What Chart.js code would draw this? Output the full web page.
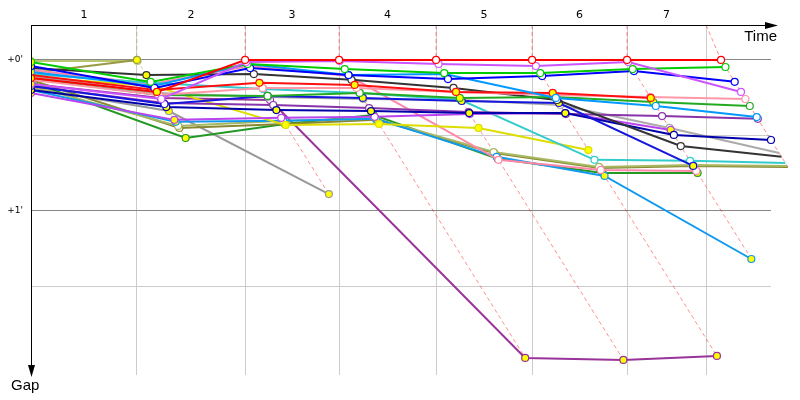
<!DOCTYPE html>
<html>
<head>
<meta charset="utf-8">
<script src="https://cdn.jsdelivr.net/npm/chart.js@4.4.0/dist/chart.umd.min.js"></script>
<style>
  html, body { margin: 0; background: #fff; }
</style>
</head>
<body>
<canvas id="chart" width="800" height="400"></canvas>
<script>
// time (s) at which the leader ends each lap, lap 0 = start
const leaderTimes = [0, 67.4, 136.2, 196.0, 257.7, 318.8, 379.2, 439.0]
// lap boundaries drawn as vertical grid lines
const lapLines = [67.4, 136.2, 196.0, 257.7, 318.8, 379.2, 429.5]
const lapLabels = ['1', '2', '3', '4', '5', '6', '7']
const gapTicks = [0, 30, 60, 90]

// gap to the leader (s) at the end of each lap, and laps drawn with a yellow marker
const redGaps = [7.2, 12.7, 0, 0, 0, 0, 0, 0]
const redPits = [0, 1]
const violetGaps = [9.5, 15.5, 0.8, 0.4, 1.6, 2.4, 0.8, 12.7]
const violetPits = [0]
const greenGaps = [0.8, 8.7, 1.6, 3.6, 5.2, 5.2, 3.6, 2.8]
const greenPits = [0]
const blueGaps = [2.4, 11.1, 3.2, 6.0, 7.6, 6.4, 4.4, 8.7]
const bluePits = [0]
const skyGaps = [4.8, 10.3, 1.6, 6.0, 5.6, 15.1, 18.3, 22.7]
const skyPits = [0, 2]
const pinkGaps = [4.0, 9.5, 2.4, 6.4, 39.7, 43.7, 44.1]
const pinkPits = [0, 2]
const blackGaps = [3.2, 6.0, 5.6, 7.9, 11.1, 15.9, 34.2, 38.5]
const blackPits = [0, 1]
const red2Gaps = [6.0, 11.9, 9.1, 9.9, 12.7, 13.1, 15.1]
const red2Pits = [0, 1, 2, 3, 4, 5, 6]
const rosaGaps = [7.9, 13.9, 11.1, 11.1, 12.7, 13.9, 14.7, 15.5]
const rosaPits = [0]
const cyanGaps = [5.6, 9.1, 11.5, 13.1, 15.9, 39.7, 40.1, 40.9]
const cyanPits = [0]
const greyGaps = [11.1, 20.3, 53.3]
const greyPits = [0, 1, 2]
const silverGaps = [6.4, 13.1, 14.7, 15.5, 15.9, 17.9, 27.0, 37.0]
const silverPits = [0]
const yellowGaps = [6.8, 10.3, 25.8, 25.4, 27.0, 35.8]
const yellowPits = [0, 1, 2, 3, 4, 5]
const navyGaps = [11.9, 18.7, 19.9, 20.3, 21.1, 21.1, 29.8, 31.8]
const navyPits = [0, 1, 2, 3, 4, 5]
const royalGaps = [10.3, 17.5, 14.3, 15.1, 16.3, 17.1, 42.1]
const royalPits = [0, 2, 3, 4, 5, 6]
const lilacGaps = [13.1, 23.8, 23.0, 22.6, 21.5, 21.1, 27.8]
const lilacPits = [0, 1, 6]
const purpleGaps = [9.5, 15.1, 15.9, 118.4, 119.2, 117.6]
const purplePits = [0, 3, 4, 5]
const plumGaps = [10.3, 17.1, 17.9, 19.1, 20.7, 21.5, 22.3, 23.4]
const plumPits = [0]
const forestGaps = [8.7, 31.0, 25.4, 21.9, 39.3, 44.9, 44.9]
const forestPits = [0, 1, 3, 4, 5, 6]
const oliveGaps = [7.9, 27.0, 25.4, 23.8, 37.0, 42.9, 42.1, 42.5]
const olivePits = [0]
const khakiGaps = [10.3, 26.2, 24.2, 23.4, 36.6, 42.5, 41.7, 42.1]
const khakiPits = [0]
const azureGaps = [11.9, 24.6, 24.2, 23.4, 38.5, 46.1, 79.1]
const azurePits = [0, 1, 3, 5, 6]
const mossGaps = [7.5, 13.9, 14.3, 13.1, 15.1, 14.7, 16.7, 18.3]
const mossPits = [0, 4, 5, 6]
const lapOneGaps = [5.2, 0]
const lapOnePits = [0, 1]
const sageGaps = [0.4, 0.4]
const sagePits = [0]

const cars = [
  { gaps: redGaps, pits: redPits, color: '#ff0000' },
  { gaps: violetGaps, pits: violetPits, color: '#cc55ff' },
  { gaps: greenGaps, pits: greenPits, color: '#00cc00' },
  { gaps: blueGaps, pits: bluePits, color: '#0000ff' },
  { gaps: skyGaps, pits: skyPits, color: '#0099ff' },
  { gaps: red2Gaps, pits: red2Pits, color: '#ff1010' },
  { gaps: rosaGaps, pits: rosaPits, color: '#ff99aa' },
  { gaps: mossGaps, pits: mossPits, color: '#22aa22' },
  { gaps: blackGaps, pits: blackPits, color: '#333333' },
  { gaps: royalGaps, pits: royalPits, color: '#1515dd' },
  { gaps: navyGaps, pits: navyPits, color: '#0000aa' },
  { gaps: plumGaps, pits: plumPits, color: '#8833aa' },
  { gaps: lilacGaps, pits: lilacPits, color: '#bb44ee' },
  { gaps: cyanGaps, pits: cyanPits, color: '#33cccc' },
  { gaps: silverGaps, pits: silverPits, color: '#aaaaaa' },
  { gaps: yellowGaps, pits: yellowPits, color: '#dddd00' },
  { gaps: pinkGaps, pits: pinkPits, color: '#ff88aa' },
  { gaps: azureGaps, pits: azurePits, color: '#1199ee' },
  { gaps: khakiGaps, pits: khakiPits, color: '#a8b860' },
  { gaps: oliveGaps, pits: olivePits, color: '#888833' },
  { gaps: forestGaps, pits: forestPits, color: '#229922' },
  { gaps: greyGaps, pits: greyPits, color: '#999999' },
  { gaps: purpleGaps, pits: purplePits, color: '#993399' },
  { gaps: lapOneGaps, pits: lapOnePits, color: '#999944' },
  { gaps: sageGaps, pits: sagePits, color: '#b8c870' },
]

const topGap = -13.9
const noClipRight = { left: 0, top: false, right: false, bottom: false }

const carSets = cars.map(c => ({
  data: c.gaps.map((g, lap) => ({ x: lap === 0 ? 0 : leaderTimes[lap] + g, y: g })),
  borderColor: c.color,
  borderWidth: 2,
  pointRadius: 3.5,
  pointBorderWidth: 1.2,
  pointBorderColor: c.color,
  pointBackgroundColor: c.gaps.map((g, lap) => c.pits.includes(lap) ? '#ffff00' : '#ffffff'),
  clip: noClipRight,
  order: 0,
}))

// one dashed line per lap through every car's end of that lap
const lapSets = lapLines.map((grid, i) => {
  const lap = i + 1
  const t = leaderTimes[lap]
  const atLap = cars.filter(c => c.gaps.length > lap)
  const leader = atLap.find(c => c.gaps[lap] === 0)
  const maxGap = Math.max(...atLap.map(c => c.gaps[lap]))
  const pts = grid === t
    ? [{ x: t, y: topGap }, { x: t, y: 0 }, { x: t + maxGap, y: maxGap }]
    : [{ x: grid, y: topGap }, { x: t, y: 0 }, { x: t + maxGap, y: maxGap }]
  return {
    data: pts,
    borderColor: (leader ? leader.color : '#ff0000') + '70',
    borderWidth: 1,
    borderDash: [4, 3],
    pointRadius: 0,
    clip: noClipRight,
    order: 1,
  }
})

const lapMids = lapLines.map((v, i) => ((i === 0 ? 0 : lapLines[i - 1]) + v) / 2)

const axisArrows = {
  id: 'axisArrows',
  afterDraw(chart) {
    const { ctx, chartArea: a } = chart
    ctx.save()
    ctx.strokeStyle = '#000'
    ctx.fillStyle = '#000'
    ctx.lineWidth = 1
    ctx.beginPath()
    ctx.moveTo(a.left, a.top + 0.5)
    ctx.lineTo(a.right, a.top + 0.5)
    ctx.moveTo(a.left + 0.5, a.top)
    ctx.lineTo(a.left + 0.5, a.bottom - 6)
    ctx.stroke()
    ctx.beginPath()
    ctx.moveTo(a.right + 7, a.top + 0.5)
    ctx.lineTo(a.right - 6, a.top - 3)
    ctx.lineTo(a.right - 6, a.top + 4)
    ctx.closePath()
    ctx.fill()
    ctx.beginPath()
    ctx.moveTo(a.left + 0.5, a.bottom + 2)
    ctx.lineTo(a.left - 3, a.bottom - 10)
    ctx.lineTo(a.left + 4, a.bottom - 10)
    ctx.closePath()
    ctx.fill()
    ctx.font = '15px "Liberation Sans"'
    ctx.textBaseline = 'alphabetic'
    ctx.textAlign = 'right'
    ctx.fillText('Time', a.right + 6, a.top + 16)
    ctx.textAlign = 'left'
    ctx.fillText('Gap', 11, a.bottom + 15)
    ctx.restore()
  }
}

new Chart(document.getElementById('chart'), {
  type: 'line',
  data: { datasets: carSets.concat(lapSets) },
  options: {
    responsive: false,
    animation: false,
    layout: { padding: { left: 0, top: 0, right: 29, bottom: 25 } },
    elements: { line: { tension: 0 } },
    plugins: { legend: { display: false }, tooltip: { enabled: false } },
    scales: {
      x: {
        type: 'linear',
        position: 'top',
        min: 0,
        max: 470.8,
        afterBuildTicks: s => { s.ticks = lapLines.map(v => ({ value: v })) },
        afterFit: s => { s.height = 0 },
        ticks: { display: false },
        grid: { color: '#cccccc', drawTicks: false },
        border: { display: false },
      },
      lap: {
        type: 'linear',
        position: 'top',
        axis: 'x',
        min: 0,
        max: 470.8,
        afterBuildTicks: s => { s.ticks = lapMids.map(v => ({ value: v })) },
        afterFit: s => { s.height = 25 },
        ticks: {
          autoSkip: false,
          maxRotation: 0,
          padding: 3,
          color: '#000',
          font: { family: 'DejaVu Sans', size: 11 },
          callback: (v, i) => lapLabels[i],
        },
        grid: { display: false, drawTicks: false },
        border: { display: false },
      },
      y: {
        type: 'linear',
        reverse: true,
        min: topGap,
        max: 125.2,
        afterBuildTicks: s => { s.ticks = gapTicks.map(v => ({ value: v })) },
        afterFit: s => { s.width = 31 },
        ticks: {
          padding: 8,
          color: '#000',
          font: { family: 'DejaVu Sans', size: 9 },
          callback: v => v % 60 === 0 ? "+" + (v / 60) + "'" : '',
        },
        grid: {
          drawTicks: false,
          color: c => c.tick && c.tick.value % 60 === 0 ? '#888888' : '#cccccc',
        },
        border: { display: false },
      },
    },
  },
  plugins: [axisArrows],
})
</script>
</body>
</html>
